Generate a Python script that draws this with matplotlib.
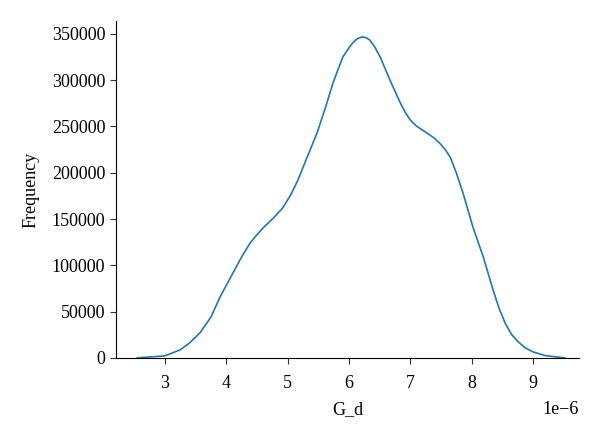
import numpy as np
import matplotlib.pyplot as plt

plt.rcParams['font.family'] = ['Liberation Serif', 'DejaVu Serif']

# density curve of G_d (x in units of 1e-6)
g_d = [2.55, 2.59, 3.0, 3.245, 3.4, 3.57, 3.75, 3.90, 4.11, 4.25, 4.39, 4.5, 4.60, 4.76, 4.92,
       5.05, 5.17, 5.32, 5.48, 5.62, 5.74, 5.83, 5.90, 6.0, 6.07, 6.14, 6.21, 6.28, 6.34,
       6.42, 6.51, 6.67, 6.83, 6.92, 7.00, 7.1, 7.27, 7.38, 7.48, 7.57, 7.65, 7.75, 7.86,
       8.02, 8.19, 8.35, 8.45, 8.55, 8.65, 8.74, 8.87, 9.0, 9.2, 9.39, 9.52]
freq = [0, 200, 2200, 8600, 16000, 27000, 44000, 65900, 91800, 109000, 124200, 133000, 140400,
        150500, 162000, 176000, 192300, 217000, 243000, 271000, 297000, 313000, 325000, 335000,
        341000, 345000, 346700, 346000, 343400, 336000, 325000, 300000, 276500, 265000, 257000,
        250500, 243000, 238000, 232000, 225000, 217000, 200000, 178000, 141500, 109000, 73400,
        53000, 37000, 25500, 18500, 11000, 6500, 2500, 1000, 0]

x = np.array(g_d) * 1e-6
y = np.array(freq)

fig = plt.figure(figsize=(6, 4.37), dpi=100)
ax = fig.add_axes([0.193, 0.181, 0.772, 0.771])
ax.plot(x, y, color='#1f77b4', lw=1.2)

ax.set_xlim(2.2e-6, 9.75e-6)
ax.set_ylim(0, 364000)
ax.set_yticks(np.arange(0, 350001, 50000))
ax.set_xticks(np.arange(3, 10) * 1e-6)
ax.spines['top'].set_visible(False)
ax.spines['right'].set_visible(False)
ax.tick_params(labelsize=13, length=4, color='#333333')
ax.tick_params(axis='x', pad=8)
ax.xaxis.OFFSETTEXTPAD = 7
ax.xaxis.get_offset_text().set_fontsize(13)
ax.set_xlabel('G_d', fontsize=13, labelpad=7)
ax.set_ylabel('Frequency', fontsize=13, labelpad=9)

plt.savefig('out.png', dpi=100)
